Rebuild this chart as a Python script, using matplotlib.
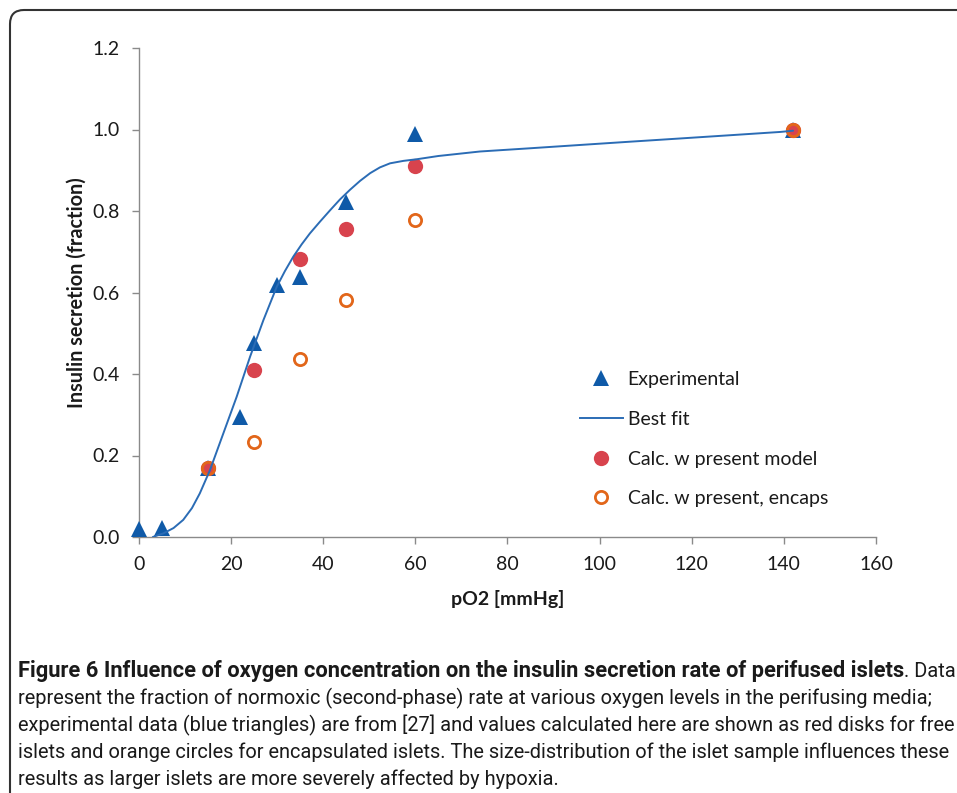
import matplotlib
matplotlib.use("Agg")
import matplotlib.pyplot as plt
from matplotlib.lines import Line2D
from matplotlib.patches import FancyBboxPatch

# ---------------- data ----------------
exp_x = [0, 5, 15, 22, 25, 30, 35, 45, 60, 142]
exp_y = [0.02, 0.022, 0.169, 0.295, 0.475, 0.618, 0.639, 0.823, 0.99, 1.0]

free_x = [15, 25, 35, 45, 60, 142]
free_y = [0.17, 0.41, 0.682, 0.755, 0.91, 1.0]

enc_x = [15, 25, 35, 45, 60, 142]
enc_y = [0.17, 0.234, 0.436, 0.582, 0.778, 1.0]

fit_x = [3, 5.3, 7.5, 9.6, 11.5, 13.2, 15.4, 18.3, 21.2, 24.1, 27.0, 29.9,
         31.7, 33.5, 35.3, 37.1, 39.3, 41.5, 43.6, 45.8, 48.0, 50.2, 52.3,
         54.5, 57.4, 60.3, 65, 74, 85, 95.7, 106.5, 117.5, 128.4, 139.2, 142]
fit_y = [0.0, 0.009, 0.022, 0.042, 0.071, 0.107, 0.164, 0.254, 0.344, 0.442,
         0.532, 0.614, 0.653, 0.688, 0.718, 0.745, 0.774, 0.802, 0.828, 0.852,
         0.874, 0.893, 0.907, 0.917, 0.923, 0.927, 0.935, 0.946, 0.954, 0.962,
         0.970, 0.978, 0.986, 0.994, 0.997]

x_ticks = [0, 20, 40, 60, 80, 100, 120, 140, 160]
y_ticks = [0.0, 0.2, 0.4, 0.6, 0.8, 1.0, 1.2]
y_tick_labels = ["0.0", "0.2", "0.4", "0.6", "0.8", "1.0", "1.2"]

legend_labels = ["Experimental", "Best fit", "Calc. w present model",
                 "Calc. w present, encaps"]

caption_bold = ("Figure 6 Influence of oxygen concentration on the insulin "
                "secretion rate of perifused islets")
caption_lines = [
    ". Data",
    "represent the fraction of normoxic (second-phase) rate at various oxygen levels in the perifusing media;",
    "experimental data (blue triangles) are from [27] and values calculated here are shown as red disks for free",
    "islets and orange circles for encapsulated islets. The size-distribution of the islet sample influences these",
    "results as larger islets are more severely affected by hypoxia.",
]

# ---------------- style ----------------
W, H = 957, 793
BLUE = "#0f5aa8"
LINE = "#2b6cb5"
RED = "#d8434d"
ORANGE = "#e2661a"
GRAY = "#8a8a8a"
TXT = "#1a1a1a"
FONT = ["Lato", "DejaVu Sans"]
CAPFONT = ["Roboto", "DejaVu Sans"]

plt.rcParams["font.family"] = FONT

fig = plt.figure(figsize=(W / 100, H / 100), dpi=100)
fig.patch.set_facecolor("white")

# rounded frame (only top-left corner visible)
frame = FancyBboxPatch((10 / 100, -1.0), 12.0, (H - 10) / 100 + 1.0,
                       boxstyle="round,pad=0,rounding_size=0.14",
                       transform=fig.dpi_scale_trans, fill=False,
                       edgecolor="#333333", linewidth=1.5, clip_on=False)
fig.add_artist(frame)

ax = fig.add_axes([139 / W, 1 - 537 / H, (876 - 139) / W, (537 - 48) / H])
ax.set_facecolor("none")
ax.set_xlim(0, 160)
ax.set_ylim(0, 1.2)

for s in ("top", "right"):
    ax.spines[s].set_visible(False)
for s in ("left", "bottom"):
    ax.spines[s].set_color(GRAY)
    ax.spines[s].set_linewidth(1.0)

ax.set_xticks(x_ticks)
ax.set_xticklabels([str(v) for v in x_ticks])
ax.set_yticks(y_ticks)
ax.set_yticklabels(y_tick_labels)
ax.tick_params(axis="both", direction="out", length=5, width=1.0, color=GRAY,
               labelsize=14, labelcolor=TXT)
ax.tick_params(axis="y", pad=9)
ax.tick_params(axis="x", pad=9)

ax.set_xlabel("pO2 [mmHg]", fontsize=14, fontweight="bold", color=TXT,
              labelpad=12)
ax.set_ylabel("Insulin secretion (fraction)", fontsize=14.3,
              fontweight="bold", color=TXT, labelpad=4)

ax.plot(exp_x, exp_y, linestyle="none", marker="^", markersize=12,
        color=BLUE, markeredgewidth=0, zorder=3, clip_on=False)
ax.plot(free_x, free_y, linestyle="none", marker="o", markersize=11,
        color=RED, markeredgewidth=0, zorder=4, clip_on=False)
ax.plot(enc_x, enc_y, linestyle="none", marker="o", markersize=8.8,
        markerfacecolor="none", markeredgecolor=ORANGE, markeredgewidth=2.0,
        zorder=5, clip_on=False)
ax.plot(fit_x, fit_y, color=LINE, linewidth=1.4, zorder=6,
        solid_capstyle="round", solid_joinstyle="round")

handles = [
    Line2D([], [], linestyle="none", marker="^", markersize=12, color=BLUE,
           markeredgewidth=0),
    Line2D([], [], color=LINE, linewidth=1.4),
    Line2D([], [], linestyle="none", marker="o", markersize=11, color=RED,
           markeredgewidth=0),
    Line2D([], [], linestyle="none", marker="o", markersize=8.8,
           markerfacecolor="none", markeredgecolor=ORANGE,
           markeredgewidth=2.0),
]
leg = ax.legend(handles, legend_labels, loc="upper left",
                bbox_to_anchor=((580 - 139) / (876 - 139), (537 - 371) / (537 - 48)),
                frameon=False, fontsize=14, handlelength=2.2,
                handletextpad=0.25, labelspacing=1.17, borderpad=0,
                borderaxespad=0)
for t in leg.get_texts():
    t.set_color(TXT)

# ---------------- caption ----------------
def fx(px):
    return px / W


def fy(py):
    return 1 - py / H


baselines = [677, 704, 731, 758, 785]
left = 18

fig.canvas.draw()
r = fig.canvas.get_renderer()

# regular size fitted to the longest regular line
probe = fig.text(0, 0, caption_lines[2], fontsize=12, family=CAPFONT)
w = probe.get_window_extent(r).width
probe.remove()
reg_size = 12 * (952 - left) / w

tail = fig.text(0, 0, caption_lines[0], fontsize=reg_size, family=CAPFONT)
tail_w = tail.get_window_extent(r).width
tail.remove()

probe = fig.text(0, 0, caption_bold, fontsize=12, family=CAPFONT,
                 fontweight="bold")
wb = probe.get_window_extent(r).width
probe.remove()
bold_size = 12 * (955 - left - tail_w) / wb

tb = fig.text(fx(left), fy(baselines[0]), caption_bold, fontsize=bold_size,
              family=CAPFONT, fontweight="bold", color=TXT, va="baseline")
bw = tb.get_window_extent(r).width
fig.text(fx(left + bw), fy(baselines[0]), caption_lines[0], fontsize=reg_size,
         family=CAPFONT, color=TXT, va="baseline")
for i, line in enumerate(caption_lines[1:], start=1):
    fig.text(fx(left), fy(baselines[i]), line, fontsize=reg_size,
             family=CAPFONT, color=TXT, va="baseline")

fig.savefig("out.png", dpi=100, facecolor="white")
